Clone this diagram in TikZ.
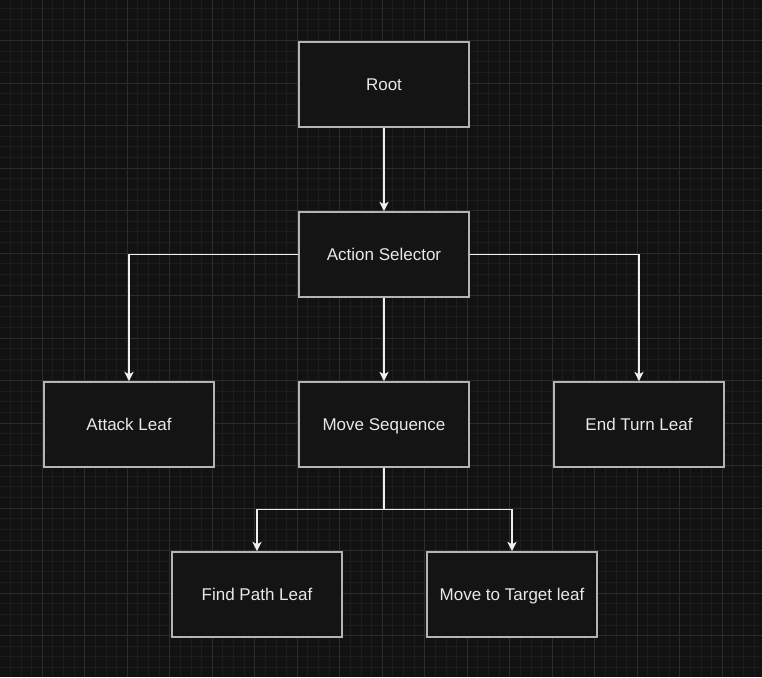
\documentclass[tikz,border=0pt]{standalone}
\usepackage{fontspec}
\setmainfont{Liberation Sans}
\usetikzlibrary{arrows.meta}
\definecolor{bg}{HTML}{121212}
\definecolor{gridminor}{HTML}{1D1D1D}
\definecolor{gridmajor}{HTML}{2C2C2C}
\definecolor{boxfill}{HTML}{141414}
\definecolor{boxborder}{HTML}{B4B4B4}
\definecolor{txt}{HTML}{E8E8E8}
\definecolor{wire}{HTML}{EEEEEE}
\tikzset{
  minorgrid/.style={draw=gridminor, line width=0.75pt},
  majorgrid/.style={draw=gridmajor, line width=0.75pt},
  box/.style={draw=boxborder, fill=boxfill, line width=1.3pt, minimum width=127.5pt, minimum height=63.75pt, text=txt, font=\fontsize{12.75pt}{15pt}\selectfont, inner sep=0pt, text height=9.3pt, text depth=0pt},
  conn/.style={draw=wire, line width=0.9pt, -{Stealth[length=7pt,width=7pt,inset=1.8pt]}}
}
\begin{document}
\begin{tikzpicture}[x=0.75pt,y=-0.75pt]
\useasboundingbox (0,0) rectangle (762,677);
\fill[bg] (0,0) rectangle (762,677);
\foreach \i in {0,...,72} \draw[minorgrid] ({10.625*\i-0.2},0) -- ({10.625*\i-0.2},677);
\foreach \i in {0,...,64} \draw[minorgrid] (0,{10.625*\i-1.8}) -- (762,{10.625*\i-1.8});
\foreach \i in {0,...,18} \draw[majorgrid] ({42.5*\i-0.2},0) -- ({42.5*\i-0.2},677);
\foreach \i in {0,...,16} \draw[majorgrid] (0,{42.5*\i-1.8}) -- (762,{42.5*\i-1.8});

\node[box] (root) at (384,84.5) {Root};
\node[box] (sel) at (384,254.5) {Action Selector};
\node[box] (attack) at (129,424.5) {Attack Leaf};
\node[box] (moveseq) at (384,424.5) {Move Sequence};
\node[box] (endt) at (639,424.5) {End Turn Leaf};
\node[box] (findp) at (257,594.5) {Find Path Leaf};
\node[box] (movet) at (512,594.5) {Move to Target leaf};
\coordinate (j) at (384,509.5);

\draw[conn] (root) -- (sel);
\draw[conn] (sel.west) -| (attack.north);
\draw[conn] (sel.east) -| (endt.north);
\draw[conn] (sel) -- (moveseq);
\draw[conn] (moveseq.south) -- (j) -| (findp.north);
\draw[conn] (j) -| (movet.north);
\end{tikzpicture}
\end{document}
